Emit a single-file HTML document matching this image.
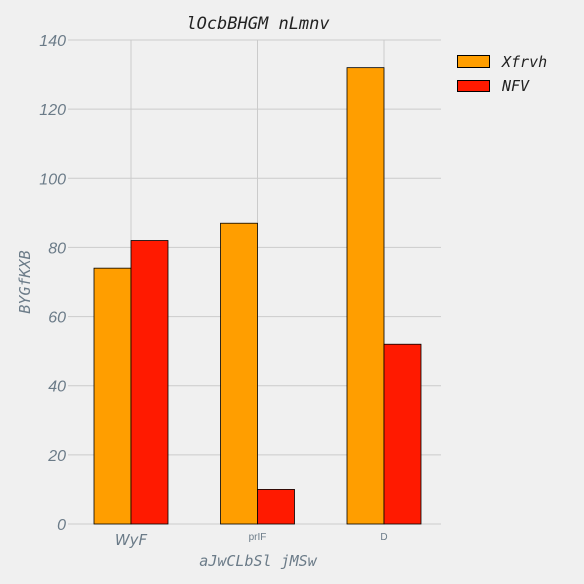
<!DOCTYPE html>
<html><head><meta charset="utf-8"><style>
html,body{margin:0;padding:0;background:#f0f0f0;}
svg{display:block;}
</style></head><body>
<svg id="chart" width="584" height="584" xmlns="http://www.w3.org/2000/svg">
<rect width="584" height="584" fill="#f0f0f0"/>
<g id="grid"></g>
<g id="bars"></g>
<g id="ticks"></g>
<text x="258" y="29" text-anchor="middle" font-family="DejaVu Sans Mono, monospace" font-style="oblique" font-size="17" fill="#222">lOcbBHGM nLmnv</text>
<text x="258" y="566" text-anchor="middle" font-family="DejaVu Sans Mono, monospace" font-style="oblique" font-size="15" fill="#6b7b88">aJwCLbSl jMSw</text>
<text transform="translate(30,282) rotate(-90)" text-anchor="middle" font-family="DejaVu Sans Mono, monospace" font-style="oblique" font-size="15" fill="#6b7b88">BYGfKXB</text>
<g>
<rect x="457.5" y="55.5" width="32" height="12" fill="#ff9e00" stroke="#000" stroke-width="1"/>
<text x="502" y="67" font-family="DejaVu Sans Mono, monospace" font-style="oblique" font-size="15" fill="#222">Xfrvh</text>
<rect x="457.5" y="80.5" width="32" height="11" fill="#ff1a00" stroke="#000" stroke-width="1"/>
<text x="502" y="91" font-family="DejaVu Sans Mono, monospace" font-style="oblique" font-size="15" fill="#222">NFV</text>
</g>
</svg>
<script>
const categories = ["WyF", "prIF", "D"];
const seriesXfrvh = [74, 87, 132];
const seriesNFV = [82, 10, 52];
const yTicks = [0, 20, 40, 60, 80, 100, 120, 140];

const NS = "http://www.w3.org/2000/svg";
const plotLeft = 68, plotRight = 441, plotTop = 40, plotBottom = 524, yMax = 140;
const yScale = v => plotBottom - v / yMax * (plotBottom - plotTop);
const xScale = i => 131 + i * 126.5;
const bw = 37;
function mk(tag, attrs, parent) { const e = document.createElementNS(NS, tag); for (const k in attrs) e.setAttribute(k, attrs[k]); parent.appendChild(e); return e; }
const grid = document.getElementById("grid"), bars = document.getElementById("bars"), ticks = document.getElementById("ticks");

yTicks.forEach(t => {
  const l = mk("line", {x1: plotLeft, x2: plotRight, y1: yScale(t), y2: yScale(t), stroke: "#cbcbcb", "stroke-width": 1}, grid);
  
  
  const tx = mk("text", {x: 66, y: yScale(t) + 6, "text-anchor": "end", "font-family": "Liberation Sans, sans-serif", "font-style": "italic", "font-size": 16, fill: "#6b7b88"}, ticks);
  tx.textContent = t;
  
  
});
categories.forEach((c, i) => {
  const l = mk("line", {x1: xScale(i), x2: xScale(i), y1: plotTop, y2: plotBottom, stroke: "#cbcbcb", "stroke-width": 1}, grid);
  
  
  const a = mk("rect", {x: xScale(i) - bw, y: yScale(seriesXfrvh[i]), width: bw, height: plotBottom - yScale(seriesXfrvh[i]), fill: "#ff9e00", stroke: "#000", "stroke-width": 0.8}, bars);
  
  
  const b = mk("rect", {x: xScale(i), y: yScale(seriesNFV[i]), width: bw, height: plotBottom - yScale(seriesNFV[i]), fill: "#ff1a00", stroke: "#000", "stroke-width": 0.8}, bars);
  
  
  const big = i === 0;
  const tx = mk("text", {x: xScale(i), y: big ? 545 : 540, "text-anchor": "middle", "font-family": big ? "DejaVu Sans, sans-serif" : "Liberation Sans, sans-serif", "font-style": big ? "oblique" : "normal", "font-size": big ? 15 : 10, fill: "#6b7b88"}, ticks);
  tx.textContent = c;
  
  
});
</script>
</body></html>
